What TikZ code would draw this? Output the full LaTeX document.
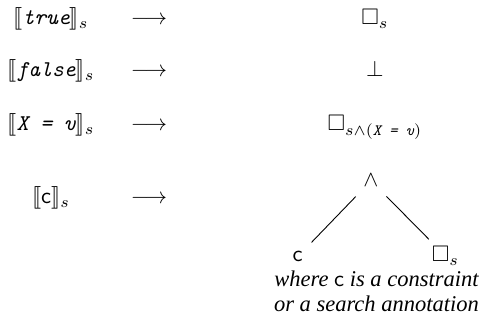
\documentclass[tikz,border=0pt]{standalone}
\usepackage{amsmath}
\usepackage{amssymb}
\usepackage{stmaryrd}
\usepackage{fontspec}
\newfontfamily\tms{Liberation Serif}
\newcommand{\tti}[1]{\text{\ttfamily\itshape #1}}
\newcommand{\sfc}{\textsf{\upshape c}}
\begin{document}
\begin{tikzpicture}[x=0.444pt,y=-0.444pt]
\tikzset{
  lbl/.style={anchor=base, inner sep=0pt},
  treeline/.style={line width=0.4pt},
  note/.style={anchor=base, inner sep=0pt, font=\tms\itshape}
}
\useasboundingbox (0,0) rectangle (486,325);
% left column
\node[lbl] (l1) at (51,25) {$\llbracket\tti{true}\rrbracket_s$};
\node[lbl] (l2) at (51,77) {$\llbracket\tti{false}\rrbracket_s$};
\node[lbl] (l3) at (51,131) {$\llbracket\tti{X = v}\rrbracket_s$};
\node[lbl] (l4) at (51,204) {$\llbracket\text{\sfc}\rrbracket_s$};
% arrows
\node[lbl] (a1) at (149,25) {$\longrightarrow$};
\node[lbl] (a2) at (149,77) {$\longrightarrow$};
\node[lbl] (a3) at (149,131) {$\longrightarrow$};
\node[lbl] (a4) at (149,204) {$\longrightarrow$};
% right column
\node[lbl] (r1) at (375,25) {$\square_s$};
\node[lbl] (r2) at (375,77) {$\bot$};
\node[lbl] (r3) at (375,131) {$\square_{s\wedge(\tti{X = v})}$};
% tree
\node[lbl] (and) at (371,187) {$\wedge$};
\node[lbl] (cn) at (297.5,262) {\sfc};
\node[lbl] (bs) at (445.5,262) {$\square_s$};
\draw[treeline, shorten <=9.8pt, shorten >=9pt] (and.center) -- (cn.center);
\draw[treeline, shorten <=9.8pt, shorten >=10.5pt] (and.center) -- (bs.center);
% note
\node[note] (t1) at (376.5,287) {where \sfc\ is a constraint};
\node[note] (t2) at (376.5,312) {or a search annotation};
\end{tikzpicture}
\end{document}
